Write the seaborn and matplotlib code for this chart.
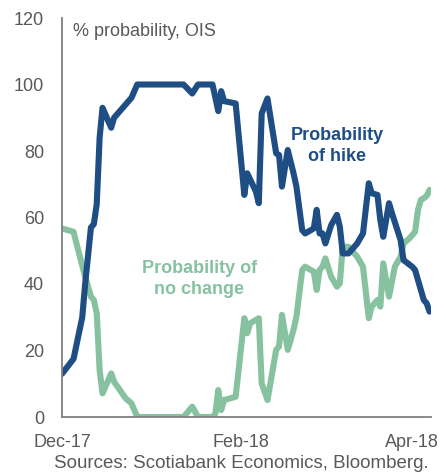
import pandas as pd
import matplotlib.pyplot as plt
import seaborn as sns

sns.set_style('white')
plt.rcParams['font.family'] = ['Liberation Sans', 'DejaVu Sans']

# probability of a hike (% , OIS)
hike_dates = ['2017-12-01', '2017-12-05', '2017-12-08', '2017-12-09', '2017-12-11', '2017-12-12',
              '2017-12-13', '2017-12-14', '2017-12-15', '2017-12-18', '2017-12-19', '2017-12-25',
              '2017-12-27', '2018-01-12', '2018-01-15', '2018-01-17', '2018-01-22', '2018-01-24',
              '2018-01-25', '2018-01-26', '2018-01-30', '2018-02-02', '2018-02-03', '2018-02-06',
              '2018-02-07', '2018-02-08', '2018-02-10', '2018-02-13', '2018-02-14', '2018-02-15',
              '2018-02-17', '2018-02-19', '2018-02-20', '2018-02-22', '2018-02-23', '2018-02-26',
              '2018-02-27', '2018-02-28', '2018-03-01', '2018-03-02', '2018-03-04', '2018-03-06',
              '2018-03-07', '2018-03-08', '2018-03-10', '2018-03-13', '2018-03-15', '2018-03-17',
              '2018-03-18', '2018-03-20', '2018-03-21', '2018-03-22', '2018-03-24', '2018-03-25',
              '2018-03-28', '2018-03-29', '2018-04-01', '2018-04-02', '2018-04-03', '2018-04-05',
              '2018-04-06', '2018-04-07']
hike_vals = [13, 17.5, 30, 40, 57, 58,
             64, 84, 93, 87, 90, 96,
             100, 100, 97.3, 100, 100, 92,
             98, 95, 94.3, 66.8, 73.3, 67.8,
             64.3, 91.3, 95.8, 79.3, 78.8, 69.3,
             80.3, 73.3, 69.3, 56.2, 55.2, 56.7,
             62.3, 55.2, 55.2, 52.2, 57.7, 60.8,
             57.2, 49.2, 49.2, 52.2, 55.2, 70.3,
             67.3, 66.8, 59.2, 54.2, 64.3, 61.3,
             53.2, 47.2, 45.2, 44.2, 41.2, 35.2,
             34.2, 31.7]

# probability of no change
hold_dates = ['2017-12-01', '2017-12-05', '2017-12-06', '2017-12-09', '2017-12-11', '2017-12-12',
              '2017-12-13', '2017-12-14', '2017-12-15', '2017-12-18', '2017-12-19', '2017-12-21',
              '2017-12-23', '2017-12-25', '2017-12-27', '2018-01-12', '2018-01-15', '2018-01-17',
              '2018-01-22', '2018-01-23', '2018-01-24', '2018-01-25', '2018-01-26', '2018-01-30',
              '2018-02-02', '2018-02-03', '2018-02-04', '2018-02-07', '2018-02-08', '2018-02-10',
              '2018-02-13', '2018-02-14', '2018-02-15', '2018-02-17', '2018-02-19', '2018-02-20',
              '2018-02-22', '2018-02-23', '2018-02-26', '2018-02-27', '2018-02-28', '2018-03-01',
              '2018-03-02', '2018-03-04', '2018-03-06', '2018-03-07', '2018-03-08', '2018-03-10',
              '2018-03-13', '2018-03-15', '2018-03-17', '2018-03-18', '2018-03-20', '2018-03-21',
              '2018-03-22', '2018-03-24', '2018-03-26', '2018-03-28', '2018-03-29', '2018-03-31',
              '2018-04-02', '2018-04-03', '2018-04-04', '2018-04-05', '2018-04-06', '2018-04-07']
hold_vals = [56.7, 55.7, 52.2, 42.2, 36.2, 35.2,
             31.2, 14.1, 7.1, 13.1, 10.6, 8.1,
             5.6, 4.1, 0, 0, 3.1, 0,
             0, 1, 8.1, 2.1, 5.1, 6.1,
             29.7, 25.2, 28.2, 29.7, 10.1, 5.1,
             20.2, 21.2, 30.7, 20.2, 26.2, 30.2,
             44.2, 45.2, 43.7, 38.2, 44.2, 45.2,
             47.7, 42.2, 39.2, 40.2, 51.2, 51.2,
             48.2, 45.2, 29.7, 33.2, 35.2, 33.2,
             46.2, 36.2, 45.2, 48.2, 52.2, 53.7,
             55.7, 62.3, 65.3, 65.8, 66.5, 68.3]

xtick_dates = ['2017-12-01', '2018-02-01', '2018-04-01']
xtick_labels = ['Dec-17', 'Feb-18', 'Apr-18']

blue = '#1f4e85'
green = '#86c2a0'
grey = '#595959'

hike = pd.DataFrame({'date': pd.to_datetime(hike_dates), 'prob': hike_vals})
hold = pd.DataFrame({'date': pd.to_datetime(hold_dates), 'prob': hold_vals})

fig = plt.figure(figsize=(4.46, 4.74), dpi=100)
ax = fig.add_axes([62 / 446, 1 - 417 / 474, 369 / 446, 399 / 474])

sns.lineplot(data=hold, x='date', y='prob', color=green, lw=4.4, ax=ax,
             solid_capstyle='round', solid_joinstyle='round')
sns.lineplot(data=hike, x='date', y='prob', color=blue, lw=4.4, ax=ax,
             solid_capstyle='round', solid_joinstyle='round')

ax.set_xlim(pd.Timestamp('2017-12-01'), pd.Timestamp('2018-04-07 12:00'))
ax.set_ylim(0, 120)
ax.set_yticks(range(0, 121, 20))
ax.set_xticks(pd.to_datetime(xtick_dates))
ax.set_xticklabels(xtick_labels)
ax.set_xlabel('')
ax.set_ylabel('')

for s in ['top', 'right']:
    ax.spines[s].set_visible(False)
for s in ['left', 'bottom']:
    ax.spines[s].set_color('#7f7f7f')
    ax.spines[s].set_linewidth(1.3)

ax.tick_params(axis='y', direction='in', length=4, width=1.3, color='#7f7f7f',
               labelsize=13, labelcolor=grey, pad=13)
ax.tick_params(axis='x', direction='out', length=5, width=1.3, color='#7f7f7f',
               labelsize=13, labelcolor=grey, pad=7)

ax.text(0.03, 0.987, '% probability, OIS', transform=ax.transAxes, fontsize=13,
        color=grey, ha='left', va='top')
ax.text(pd.Timestamp('2018-03-06'), 81.5, 'Probability\nof hike', color=blue, fontsize=13,
        fontweight='bold', ha='center', va='center', linespacing=1.25)
ax.text(pd.Timestamp('2018-01-17 12:00'), 41.5, 'Probability of\nno change', color=green,
        fontsize=13, fontweight='bold', ha='center', va='center', linespacing=1.25)

fig.text(241 / 446, 11 / 474, 'Sources: Scotiabank Economics, Bloomberg.', ha='center',
         va='center', fontsize=13.5, color=grey)

fig.savefig('out.png', dpi=100)
